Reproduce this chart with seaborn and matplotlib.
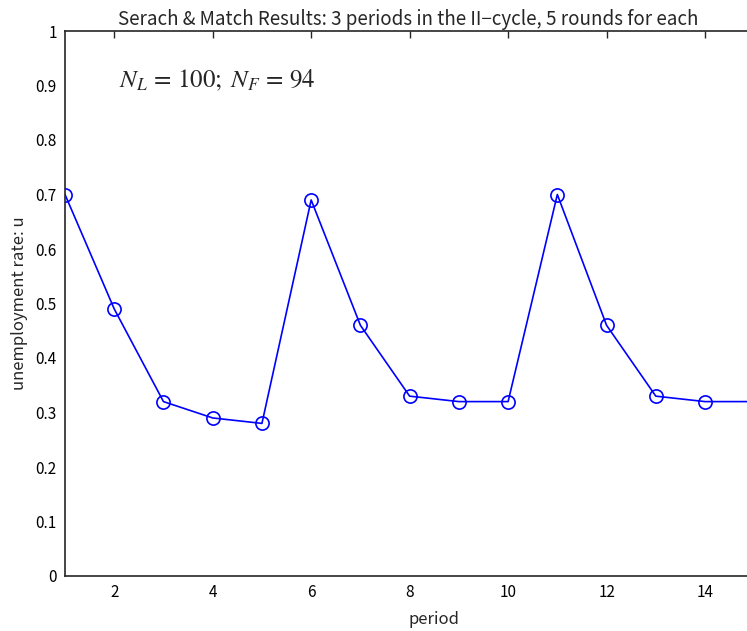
import matplotlib
matplotlib.use('Agg')
import matplotlib.pyplot as plt
import seaborn as sns
import pandas as pd

# unemployment rate per period
periods = [1, 2, 3, 4, 5, 6, 7, 8, 9, 10, 11, 12, 13, 14, 15]
unemployment = [0.70, 0.49, 0.32, 0.29, 0.28, 0.69, 0.46, 0.33, 0.32, 0.32,
                0.70, 0.46, 0.33, 0.32, 0.32]
x_ticks = [2, 4, 6, 8, 10, 12, 14]
y_ticks = [0, 0.1, 0.2, 0.3, 0.4, 0.5, 0.6, 0.7, 0.8, 0.9, 1]
y_tick_labels = ['0', '0.1', '0.2', '0.3', '0.4', '0.5', '0.6', '0.7', '0.8', '0.9', '1']

df = pd.DataFrame({'period': periods, 'u': unemployment})

sns.set_style('white')
plt.rcParams['font.family'] = ['Noto Sans CJK JP', 'DejaVu Sans']
plt.rcParams['mathtext.fontset'] = 'stix'

W, H = 747, 631
fig = plt.figure(figsize=(W / 100, H / 100), dpi=100)
# axes extends past the right edge of the figure (cropped like the original)
left, right, top, bottom = 65, 803.5, 31, 576
ax = fig.add_axes([left / W, 1 - bottom / H, (right - left) / W, (bottom - top) / H])

sns.lineplot(data=df, x='period', y='u', ax=ax, color='#0000ff', linewidth=1.2,
             marker='o', markersize=9.5, markerfacecolor='none',
             markeredgecolor='#0000ff', markeredgewidth=1.2)

ax.set_xlim(1, 16)
ax.set_ylim(0, 1)
ax.set_xticks(x_ticks)
ax.set_xticklabels([str(t) for t in x_ticks])
ax.set_yticks(y_ticks)
ax.set_yticklabels(y_tick_labels)
ax.tick_params(direction='in', length=5, width=1, top=True, right=False,
               labelsize=11, colors='#262626', labelcolor='black', pad=6)
for s in ['left', 'bottom', 'top']:
    ax.spines[s].set_linewidth(1.2)
    ax.spines[s].set_color('#262626')
ax.spines['right'].set_visible(False)

ax.set_xlabel('period', fontsize=12, labelpad=7)
ax.set_ylabel('unemployment rate: u', fontsize=12, labelpad=5)
ax.set_title('Serach & Match Results: 3 periods in the II\u2212cycle, 5 rounds for each',
             fontsize=13.5, pad=4, x=(408 - left) / (right - left))

ax.text(2.1, 0.91, r'$N_L\,=\,100;\;N_F\,=\,94$', fontsize=18, va='center')

plt.savefig('out.png', dpi=100)
